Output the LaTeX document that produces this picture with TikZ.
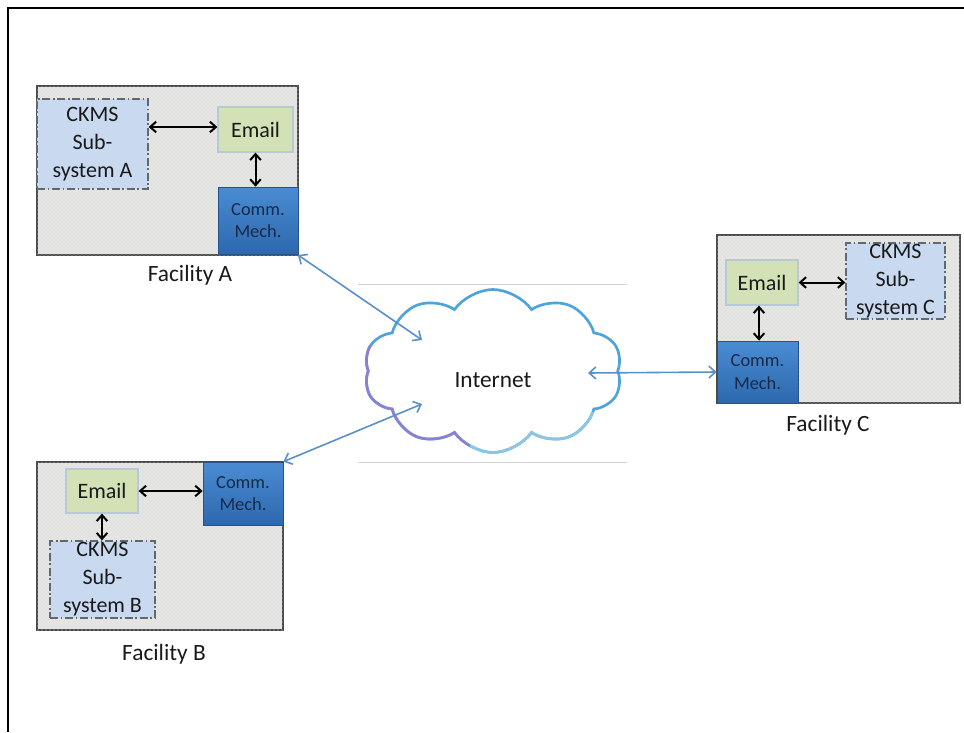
\documentclass[tikz,border=0pt]{standalone}
\usepackage{fontspec}
\setmainfont{Carlito}
\usetikzlibrary{shapes.symbols,arrows.meta,patterns}
\definecolor{facfill}{HTML}{E6E6E4}
\definecolor{facdraw}{HTML}{4A4A4A}
\definecolor{ckmsfill}{HTML}{C9DAF0}
\definecolor{ckmsdraw}{HTML}{626870}
\definecolor{mailfill}{HTML}{D3E2B6}
\definecolor{maildraw}{HTML}{B8C8D6}
\definecolor{commtop}{HTML}{4A8CD2}
\definecolor{commbot}{HTML}{2D68AE}
\definecolor{commtext}{HTML}{15294A}
\definecolor{netblue}{HTML}{5A90C8}
\definecolor{cloudblue}{HTML}{4EA4DA}
\definecolor{cloudpurple}{HTML}{8C80D2}
\definecolor{cloudlight}{HTML}{8EC4E4}
\definecolor{rulegray}{HTML}{D2D2D2}
\tikzset{
  sz/.style 2 args={minimum width={#1*0.75pt},minimum height={#2*0.75pt}},
  facility/.style={draw=facdraw,line width=1.1pt,fill=facfill,
    postaction={pattern=crosshatch dots,pattern color=gray!35},
    inner sep=0pt,outer sep=0pt},
  ckms/.style={draw=ckmsdraw,line width=1pt,dash pattern=on 6pt off 2pt on 1.2pt off 2pt,
    fill=ckmsfill,inner sep=0pt,
    align=center,font=\fontsize{16.5}{21}\selectfont,text=black!90},
  mailbox/.style={draw=maildraw,line width=0.9pt,fill=mailfill,inner sep=0pt,
    font=\fontsize{16.5}{19}\selectfont,text=black!90},
  commbox/.style={draw=commbot!80!black,line width=0.5pt,top color=commtop,bottom color=commbot,
    inner sep=0pt,align=center,font=\fontsize{13.8}{17}\selectfont,text=commtext},
  faclabel/.style={font=\fontsize{17.5}{20}\selectfont,text=black!90},
  barrow/.style={{Straight Barb[length=4.5pt,width=8pt]}-{Straight Barb[length=4.5pt,width=8pt]},line width=1.5pt,black},
  narrow/.style={{Straight Barb[length=5pt,width=9pt]}-{Straight Barb[length=5pt,width=9pt]},line width=1.2pt,netblue},
  netcloud/.style={cloud,cloud puffs=10,cloud puff arc=110,aspect=1.55,line width=2pt,
    minimum width={258*0.75pt},minimum height={163*0.75pt},inner sep=0pt},
}
\begin{document}
\begin{tikzpicture}[x=0.75pt,y=-0.75pt]
\useasboundingbox (0,0) rectangle (964,732);
% outer frame (cut at right and bottom)
\draw[line width=1.4pt,black] (8,732) -- (8,8) -- (964,8);

% ---- Facility A
\node[facility,sz={261}{169}] (facA) at (167.5,170.5) {};
\node[ckms,sz={111}{90}] (ckmsA) at (92.5,144) {CKMS\\Sub-\\system A};
\node[mailbox,sz={75}{45}] (emailA) at (255.5,129.5) {Email};
\node[commbox,sz={80}{67}] (commA) at (258,220.5) {Comm.\\Mech.};
\node[faclabel] (labA) at (190,275) {Facility A};
\draw[barrow] (ckmsA.east |- 0,127) -- (emailA.west |- 0,127);
\draw[barrow] (emailA.south) -- (emailA.south |- commA.north);

% ---- Facility B
\node[facility,sz={246}{168}] (facB) at (160,546) {};
\node[mailbox,sz={72}{44}] (emailB) at (102,491) {Email};
\node[commbox,sz={80}{63}] (commB) at (243,493.5) {Comm.\\Mech.};
\node[ckms,sz={105}{77}] (ckmsB) at (102.5,579.5) {CKMS\\Sub-\\system B};
\node[faclabel] (labB) at (164,654) {Facility B};
\draw[barrow] (emailB.east) -- (emailB.east -| commB.west);
\draw[barrow] (emailB.south) -- (emailB.south |- ckmsB.north);

% ---- Facility C
\node[facility,sz={243}{168}] (facC) at (838.5,319) {};
\node[mailbox,sz={72}{45}] (emailC) at (762,282.5) {Email};
\node[ckms,sz={99}{76}] (ckmsC) at (895.5,281) {CKMS\\Sub-\\system C};
\node[commbox,sz={81}{62}] (commC) at (757.5,372) {Comm.\\Mech.};
\node[faclabel] (labC) at (828,425) {Facility C};
\coordinate (cs) at (759,0);
\draw[barrow] (emailC.east) -- (emailC.east -| ckmsC.west);
\draw[barrow] (emailC.south -| cs) -- (commC.north -| cs);

% ---- Internet cloud
\draw[rulegray,line width=0.5pt] (358,284) -- (627,284);
\draw[rulegray,line width=0.5pt] (358,462) -- (627,462);
\node[netcloud,draw=cloudblue,fill=white] (net) at (493,371) {};
\begin{scope}
  \clip (340,345) rectangle (470,470);
  \node[netcloud,draw=cloudpurple] (netP) at (493,371) {};
\end{scope}
\begin{scope}
  \clip (470,412) rectangle (640,470);
  \node[netcloud,draw=cloudlight] (netL) at (493,371) {};
\end{scope}
\node[font=\fontsize{17.5}{20}\selectfont,text=black!90] (inet) at (493,380) {Internet};
\coordinate (inA) at (422,340);
\coordinate (inB) at (422,404);
\coordinate (inC) at (588,373);

% ---- network connectors
\draw[narrow] (facA.south east) -- (inA);
\draw[narrow] (commB.north east) -- (inB);
\draw[narrow] (inC) -- (commC.west);
\end{tikzpicture}
\end{document}
